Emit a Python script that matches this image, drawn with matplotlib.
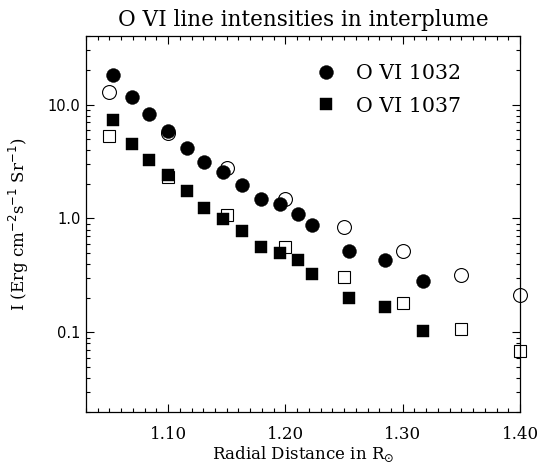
import matplotlib
matplotlib.use('Agg')
import matplotlib.pyplot as plt
from matplotlib.ticker import FixedLocator, MultipleLocator, FormatStrFormatter, LogLocator, NullFormatter

# O VI 1032 (filled circles / open circles)
r_1032_fill = [1.053, 1.069, 1.084, 1.100, 1.116, 1.131, 1.147, 1.163, 1.179, 1.195, 1.211, 1.223, 1.254, 1.285, 1.317]
i_1032_fill = [18.3, 11.7, 8.3, 5.83, 4.17, 3.12, 2.55, 1.98, 1.49, 1.35, 1.10, 0.87, 0.52, 0.434, 0.284]
r_1032_open = [1.05, 1.10, 1.15, 1.20, 1.25, 1.30, 1.35, 1.40]
i_1032_open = [12.8, 5.65, 2.78, 1.47, 0.846, 0.514, 0.321, 0.211]

# O VI 1037 (filled squares / open squares)
r_1037_fill = [1.053, 1.069, 1.084, 1.100, 1.116, 1.131, 1.147, 1.163, 1.179, 1.195, 1.211, 1.223, 1.254, 1.285, 1.317]
i_1037_fill = [7.28, 4.55, 3.23, 2.40, 1.76, 1.23, 0.98, 0.77, 0.56, 0.496, 0.43, 0.323, 0.20, 0.167, 0.102]
r_1037_open = [1.05, 1.10, 1.15, 1.20, 1.25, 1.30, 1.35, 1.40]
i_1037_open = [5.35, 2.30, 1.08, 0.56, 0.308, 0.18, 0.108, 0.0686]

x_ticks = [1.10, 1.20, 1.30, 1.40]
y_ticks = [0.1, 1.0, 10.0]

serif = 'DejaVu Serif'
sans = 'DejaVu Sans'

fig = plt.figure(figsize=(5.42, 4.70), dpi=100)
ax = fig.add_axes([86 / 542, 58 / 470, 434 / 542, 376 / 470])

# open symbols first, filled on top
ax.plot(r_1032_open, i_1032_open, 'o', ms=10, mfc='white', mec='black', mew=0.8, ls='none', clip_on=False)
ax.plot(r_1037_open, i_1037_open, 's', ms=8, mfc='white', mec='black', mew=0.8, ls='none', clip_on=False)
h1, = ax.plot(r_1032_fill, i_1032_fill, 'o', ms=10, mfc='black', mec='black', mew=0.3, ls='none')
h2, = ax.plot(r_1037_fill, i_1037_fill, 's', ms=8, mfc='black', mec='black', mew=0.3, ls='none')

ax.set_yscale('log')
ax.set_xlim(1.03, 1.40)
ax.set_ylim(0.02, 40)

ax.xaxis.set_major_locator(FixedLocator(x_ticks))
ax.xaxis.set_major_formatter(FormatStrFormatter('%.2f'))
ax.xaxis.set_minor_locator(MultipleLocator(0.01))
ax.yaxis.set_major_locator(FixedLocator(y_ticks))
ax.yaxis.set_major_formatter(FormatStrFormatter('%.1f'))
ax.yaxis.set_minor_locator(LogLocator(base=10, subs=range(2, 10)))
ax.yaxis.set_minor_formatter(NullFormatter())

ax.tick_params(which='both', direction='in', top=True, right=True, width=0.8)
ax.tick_params(which='major', length=5.5)
ax.tick_params(which='minor', length=2.7)
ax.tick_params(axis='x', which='major', pad=10, labelsize=12)
ax.tick_params(axis='y', which='major', pad=4, labelsize=10.5)
for lab in ax.get_xticklabels():
    lab.set_fontfamily(serif)
for lab in ax.get_yticklabels():
    lab.set_fontfamily(sans)
for s in ax.spines.values():
    s.set_linewidth(0.9)

ax.set_title('O VI line intensities in interplume', fontfamily=serif, fontsize=15.5, pad=7)
ax.set_xlabel(r'Radial Distance in R$_{\odot}$', fontfamily=serif, fontsize=12, labelpad=1)
ax.set_ylabel(r'I (Erg cm$^{-2}$s$^{-1}$ Sr$^{-1}$)', fontfamily=serif, fontsize=12, labelpad=12)

ax.legend([h1, h2], ['O VI 1032', 'O VI 1037'], loc='upper left', bbox_to_anchor=(0.53, 0.925),
          frameon=False, numpoints=1, handlelength=1.0, handletextpad=0.95, labelspacing=0.65,
          borderpad=0, borderaxespad=0, prop={'family': serif, 'size': 14.8})

fig.savefig('out.png', dpi=100)
